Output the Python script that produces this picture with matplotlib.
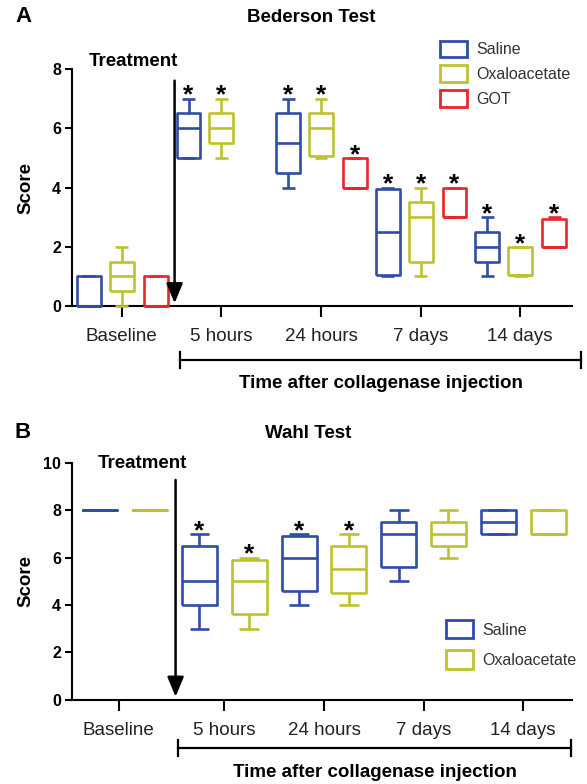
import matplotlib.pyplot as plt
from matplotlib.patches import Patch

plt.rcParams['font.family'] = ['Liberation Sans', 'DejaVu Sans']

groups = ['Baseline', '5 hours', '24 hours', '7 days', '14 days']
treatments = ['Saline', 'Oxaloacetate', 'GOT']
colors = {'Saline': '#2f4da6', 'Oxaloacetate': '#bdc22e', 'GOT': '#e8262c'}

# box stats per group: (whislo, q1, med, q3, whishi); None = no box
bed_saline = [(0, 0, 0, 1, 1), (5, 5, 6, 6.5, 7), (4, 4.5, 5.5, 6.5, 7),
              (1, 1.05, 2.5, 3.95, 4), (1, 1.5, 2, 2.5, 3)]
bed_oxalo = [(0, 0.5, 1, 1.5, 2), (5, 5.5, 6, 6.5, 7), (5, 5.05, 6, 6.5, 7),
             (1, 1.5, 3, 3.5, 4), (1, 1.05, 1.05, 2, 2)]
bed_got = [(0, 0, 0, 1, 1), None, (4, 4, 4, 5, 5),
           (3, 3, 3, 4, 4), (2, 2, 2, 2.92, 3)]
bed_sig = {'Saline': [0, 1, 1, 1, 1], 'Oxaloacetate': [0, 1, 1, 1, 1],
           'GOT': [0, 0, 1, 1, 1]}

wahl_saline = [(8, 8, 8, 8, 8), (3, 4, 5, 6.5, 7), (4, 4.6, 6, 6.9, 7),
               (5, 5.6, 7, 7.5, 8), (7, 7, 7.5, 8, 8)]
wahl_oxalo = [(8, 8, 8, 8, 8), (3, 3.6, 5, 5.9, 6), (4, 4.5, 5.5, 6.5, 7),
              (6, 6.5, 7, 7.5, 8), (7, 7, 7, 8, 8)]
wahl_sig = {'Saline': [0, 1, 1, 0, 0], 'Oxaloacetate': [0, 1, 1, 0, 0]}

W, H = 587, 784
fig = plt.figure(figsize=(W / 100, H / 100), dpi=100)


def draw_boxes(ax, data, offset, color, width, capw, sig):
    stats, pos, tops = [], [], []
    for i, d in enumerate(data):
        if d is None:
            continue
        lo, q1, med, q3, hi = d
        stats.append(dict(whislo=lo, q1=q1, med=med, q3=q3, whishi=hi, fliers=[]))
        pos.append(i + offset)
        tops.append((i + offset, hi, sig[i]))
    lp = dict(color=color, lw=1.9, solid_capstyle='butt', zorder=3, clip_on=False)
    ax.bxp(stats, positions=pos, widths=width, capwidths=capw, showfliers=False,
           boxprops=lp, whiskerprops=lp, capprops=lp, medianprops=lp,
           manage_ticks=False)
    for x, hi, s in tops:
        if s:
            ax.annotate('*', (x, hi), xytext=(0, -3), textcoords='offset points',
                        ha='center', va='baseline', fontsize=19, weight='bold')


def style_axis(ax, ymax, ticks_x):
    for s in ['top', 'right']:
        ax.spines[s].set_visible(False)
    for s in ['left', 'bottom']:
        ax.spines[s].set_linewidth(1.5)
    ax.set_ylim(0, ymax)
    ax.set_yticks(range(0, ymax + 1, 2))
    ax.tick_params(axis='y', length=5, width=1.5, labelsize=11.5, pad=3)
    ax.tick_params(axis='x', length=8, width=1.5, labelsize=13.5, pad=8,
                   labelcolor='#222222')
    for t in ax.get_yticklabels():
        t.set_fontweight('bold')
    ax.set_xticks(ticks_x)
    ax.set_xticklabels(groups)
    ax.set_ylabel('Score', fontsize=13.5, weight='bold')
    ax.yaxis.set_label_coords(-0.076, 0.5)


def bracket(ax, x0, x1, y, label_y):
    kw = dict(transform=ax.transAxes, clip_on=False, color='k', lw=1.6)
    ax.plot([x0, x1], [y, y], **kw)
    ax.plot([x0, x0], [y - 0.033, y + 0.033], **kw)
    ax.plot([x1, x1], [y - 0.033, y + 0.033], **kw)
    ax.text((x0 + x1) / 2, label_y, 'Time after collagenase injection',
            transform=ax.transAxes, ha='center', va='center',
            fontsize=13.5, weight='bold')


# Panel A - Bederson
axA = fig.add_axes([72 / W, 1 - 306 / H, 500 / W, 237 / H])
draw_boxes(axA, bed_saline, -0.33, colors['Saline'], 0.24, 0.13, bed_sig['Saline'])
draw_boxes(axA, bed_oxalo, 0.0, colors['Oxaloacetate'], 0.24, 0.13, bed_sig['Oxaloacetate'])
draw_boxes(axA, bed_got, 0.34, colors['GOT'], 0.24, 0.13, bed_sig['GOT'])
axA.set_xlim(-0.5, 4.52)
style_axis(axA, 8, range(5))
axA.annotate('', xy=(0.53, 0), xytext=(0.53, 7.7),
             arrowprops=dict(arrowstyle='-|>,head_length=0.6,head_width=0.25',
                             lw=1.8, color='k', mutation_scale=20))
axA.text(0.12, 8.25, 'Treatment', ha='center', va='center', fontsize=13.5, weight='bold')
axA.legend(handles=[Patch(facecolor='none', edgecolor=colors[t], lw=2, label=t)
                    for t in treatments],
           loc='upper left', bbox_to_anchor=(0.736, 1.12), frameon=False,
           fontsize=11.5, handlelength=1.7, handleheight=1.25, labelspacing=0.5,
           handletextpad=0.6, borderpad=0, borderaxespad=0, labelcolor='#333333')
bracket(axA, 0.216, 1.018, -0.228, -0.325)
fig.text(311 / W, 1 - 17 / H, 'Bederson Test', ha='center', va='center',
         fontsize=13.5, weight='bold')
fig.text(15 / W, 1 - 17 / H, 'A', ha='left', va='center', fontsize=16, weight='bold')

# Panel B - Wahl
axB = fig.add_axes([72 / W, 1 - 699.5 / H, 500 / W, 236.5 / H])
draw_boxes(axB, wahl_saline, -0.25, colors['Saline'], 0.35, 0.2, wahl_sig['Saline'])
draw_boxes(axB, wahl_oxalo, 0.25, colors['Oxaloacetate'], 0.35, 0.2, wahl_sig['Oxaloacetate'])
axB.set_xlim(-0.53, 4.49)
style_axis(axB, 10, [-0.06, 1, 2, 3, 4])
axB.annotate('', xy=(0.51, 0), xytext=(0.51, 9.4),
             arrowprops=dict(arrowstyle='-|>,head_length=0.6,head_width=0.25',
                             lw=1.8, color='k', mutation_scale=20))
axB.text(0.18, 9.96, 'Treatment', ha='center', va='center', fontsize=13.5, weight='bold')
axB.legend(handles=[Patch(facecolor='none', edgecolor=colors[t], lw=2, label=t)
                    for t in treatments[:2]],
           loc='upper left', bbox_to_anchor=(0.748, 0.335), frameon=False,
           fontsize=11.5, handlelength=1.7, handleheight=1.375, labelspacing=0.75,
           handletextpad=0.6, borderpad=0, borderaxespad=0, labelcolor='#333333')
bracket(axB, 0.212, 0.998, -0.205, -0.307)
fig.text(308 / W, 1 - 433 / H, 'Wahl Test', ha='center', va='center',
         fontsize=13.5, weight='bold')
fig.text(15 / W, 1 - 433 / H, 'B', ha='left', va='center', fontsize=16, weight='bold')

fig.savefig('out.png', dpi=100)
